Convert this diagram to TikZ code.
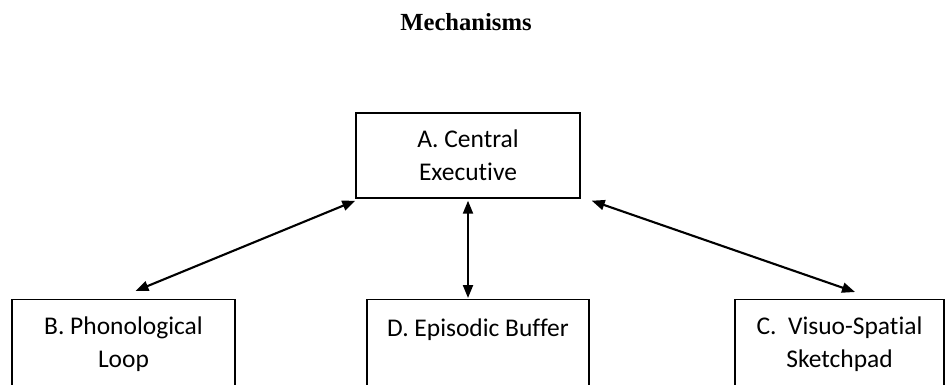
\documentclass[tikz,border=0pt]{standalone}
\usepackage{fontspec}
\setmainfont{Carlito}[RawFeature={-liga}]
\newfontfamily\titlefont{Liberation Serif}
\usetikzlibrary{arrows.meta,calc,positioning}

\begin{document}
\begin{tikzpicture}[box/.style={draw,line width=0.8pt,align=center,font=\fontsize{14.5}{18.7}\selectfont},
    link/.style={line width=1.2pt,{Triangle[length=0.26cm,width=0.2cm]}-{Triangle[length=0.26cm,width=0.2cm]}}]

    % Fix the page
    \useasboundingbox (0,0) rectangle (18.92,7.68);
    \clip (0,0) rectangle (18.92,7.68);

    % Draw title
    \node[font=\titlefont\bfseries\fontsize{14}{16}\selectfont] (title) at (9.32,7.24) {Mechanisms};

    % Draw the boxes
    \node[box,minimum width=4.48cm,minimum height=1.70cm] (ce) at (9.36,4.57) {A. Central\\Executive};
    \node[box,minimum width=4.46cm,minimum height=1.78cm,anchor=north] (pl) at (2.47,1.70) {B. Phonological\\Loop};
    \node[box,minimum width=4.44cm,minimum height=1.78cm,anchor=north] (eb) at (9.56,1.70) {D. Episodic Buffer\\\mbox{}};
    \node[box,minimum width=4.18cm,minimum height=1.78cm,anchor=north] (vs) at (16.79,1.70) {C.~ Visuo-Spatial\\Sketchpad};

    % Draw the arrows
    \draw[link] ([yshift=-0.04cm]ce.south west) -- ([xshift=0.24cm,yshift=0.16cm]pl.north);
    \draw[link] ([yshift=-0.04cm]ce.south) -- ([yshift=0.02cm]ce.south |- eb.north);
    \draw[link] ([xshift=0.22cm,yshift=-0.04cm]ce.south east) -- ([xshift=0.31cm,yshift=0.14cm]vs.north);

\end{tikzpicture}
\end{document}
